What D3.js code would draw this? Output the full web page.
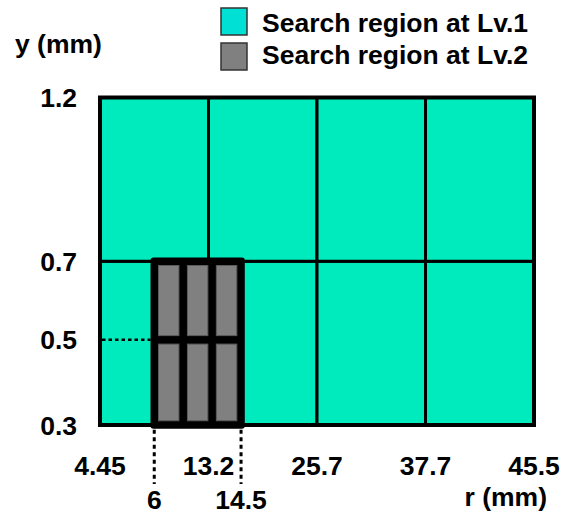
<!DOCTYPE html>
<html>
<head>
<meta charset="utf-8">
<script src="https://cdn.jsdelivr.net/npm/d3@7"></script>
<style>
  html, body { margin: 0; padding: 0; background: #fff; }
  svg text { font-family: "Liberation Sans", Arial, sans-serif; font-weight: bold; fill: #000; }
</style>
</head>
<body>
<svg id="chart" width="570" height="515"></svg>
<script>
// Radial (r) and axial (y) boundaries of the level-1 search grid
const rTicks = [4.45, 13.2, 25.7, 37.7, 45.5];
const yTicks = [0.3, 0.7, 1.2];
// Level-2 refined region and its sub-grid
const lv2R = [6, 14.5];
const lv2Y = [0.3, 0.5, 0.7];
const lv2Cols = 3;
// Secondary tick labels below the axis
const rSubTicks = [6, 14.5];
const yLabelTicks = [0.3, 0.5, 0.7, 1.2];
const legendItems = ["Search region at Lv.1", "Search region at Lv.2"];

const svg = d3.select("#chart");
const plotLeft = 100, plotRight = 534, plotTop = 97.5, plotBottom = 425;
const colW = (plotRight - plotLeft) / (rTicks.length - 1);

// The r axis is schematic: each level-1 column gets the same width,
// with the level-2 edges placed inside their columns.
const rBreaks = [4.45, 6, 13.2, 14.5, 25.7, 37.7, 45.5];
const rPos = [0, 0.5, 1, 1.3, 2, 3, 4];
const x = d3.scaleLinear().domain(rBreaks).range(rPos.map(p => plotLeft + p * colW));
// The y axis is schematic too: two rows of equal height, 0.5 sitting near mid-row.
const yBreaks = [0.3, 0.5, 0.7, 1.2];
const yPos = [0, 0.52, 1, 2];
const rowH = (plotBottom - plotTop) / 2;
const y = d3.scaleLinear().domain(yBreaks).range(yPos.map(p => plotBottom - p * rowH));

const teal = "#00ebbd";
const gray = "#808080";

// Level-1 cells
const cells = [];
for (let i = 0; i < rTicks.length - 1; i++)
  for (let j = 0; j < yTicks.length - 1; j++)
    cells.push({ r0: rTicks[i], r1: rTicks[i + 1], y0: yTicks[j], y1: yTicks[j + 1] });

svg.append("g").selectAll("rect").data(cells).join("rect")
  .attr("x", d => x(d.r0)).attr("width", d => x(d.r1) - x(d.r0))
  .attr("y", d => y(d.y1)).attr("height", d => y(d.y0) - y(d.y1))
  .attr("fill", teal).attr("stroke", "#000").attr("stroke-width", 3);

svg.append("rect")
  .attr("x", x(rTicks[0])).attr("y", y(yTicks[yTicks.length - 1]))
  .attr("width", x(rTicks[rTicks.length - 1]) - x(rTicks[0]))
  .attr("height", y(yTicks[0]) - y(yTicks[yTicks.length - 1]))
  .attr("fill", "none").attr("stroke", "#000").attr("stroke-width", 4);

// Level-2 region: thick black frame with grey sub-cells
const bw = 7.5;
const lx0 = x(lv2R[0]), lx1 = x(lv2R[1]);
const colX = d3.scaleLinear().domain([0, lv2Cols]).range([lx0, lx1]);
svg.append("rect")
  .attr("x", lx0 - bw / 2).attr("y", y(lv2Y[lv2Y.length - 1]) - bw / 2)
  .attr("width", lx1 - lx0 + bw).attr("height", y(lv2Y[0]) - y(lv2Y[lv2Y.length - 1]) + bw)
  .attr("rx", 3).attr("fill", "#000");

const sub = [];
for (let i = 0; i < lv2Cols; i++)
  for (let j = 0; j < lv2Y.length - 1; j++)
    sub.push({ c: i, y0: lv2Y[j], y1: lv2Y[j + 1] });

svg.append("g").selectAll("rect").data(sub).join("rect")
  .attr("x", d => colX(d.c) + bw / 2 + 0.5)
  .attr("width", d => colX(d.c + 1) - colX(d.c) - bw - 1)
  .attr("y", d => y(d.y1) + bw / 2 + 0.5)
  .attr("height", d => y(d.y0) - y(d.y1) - bw - 1)
  .attr("fill", gray).attr("stroke", "#5c5c5c").attr("stroke-width", 1);

// Dotted guides
const dots = svg.append("g").attr("stroke", "#000").attr("fill", "none");
dots.append("line")
  .attr("x1", x(rTicks[0]) + 2).attr("x2", lx0 - bw / 2)
  .attr("y1", y(0.5)).attr("y2", y(0.5))
  .attr("stroke-width", 2.5).attr("stroke-dasharray", "3.5,3");
dots.selectAll("line.v").data(rSubTicks).join("line").attr("class", "v")
  .attr("x1", d => x(d)).attr("x2", d => x(d))
  .attr("y1", plotBottom + bw / 2 + 1).attr("y2", 484)
  .attr("stroke-width", 3).attr("stroke-dasharray", "4,3.5");

// Axis labels
const fs = 26.5;
const rAxis = svg.append("g");
rAxis.selectAll("text.main").data(rTicks).join("text").attr("class", "main")
  .attr("x", d => x(d)).attr("y", 475).attr("text-anchor", "middle")
  .attr("font-size", fs).text(d => d);
rAxis.selectAll("text.sub").data(rSubTicks).join("text").attr("class", "sub")
  .attr("x", d => x(d)).attr("y", 509).attr("text-anchor", "middle")
  .attr("font-size", fs).text(d => d);
svg.append("text").attr("x", 547).attr("y", 506).attr("text-anchor", "end")
  .attr("font-size", fs).text("r (mm)");

svg.append("g").selectAll("text").data(yLabelTicks).join("text")
  .attr("x", 77).attr("y", d => y(d) + 9.5).attr("text-anchor", "end")
  .attr("font-size", fs).text(d => d.toFixed(1));
svg.append("text").attr("x", 15).attr("y", 53).attr("font-size", fs).text("y (mm)");

// Legend
const lg = svg.append("g").selectAll("g").data(legendItems).join("g")
  .attr("transform", (d, i) => `translate(221,${8 + i * 35})`);
lg.append("rect").attr("width", 26).attr("height", 27)
  .attr("fill", (d, i) => i === 0 ? "#00e0d4" : gray)
  .attr("stroke", "#333").attr("stroke-width", 1.5);
lg.append("text").attr("x", 41).attr("y", (d, i) => 23.5 - i * 3)
  .attr("font-size", fs).text(d => d);
</script>
</body>
</html>
